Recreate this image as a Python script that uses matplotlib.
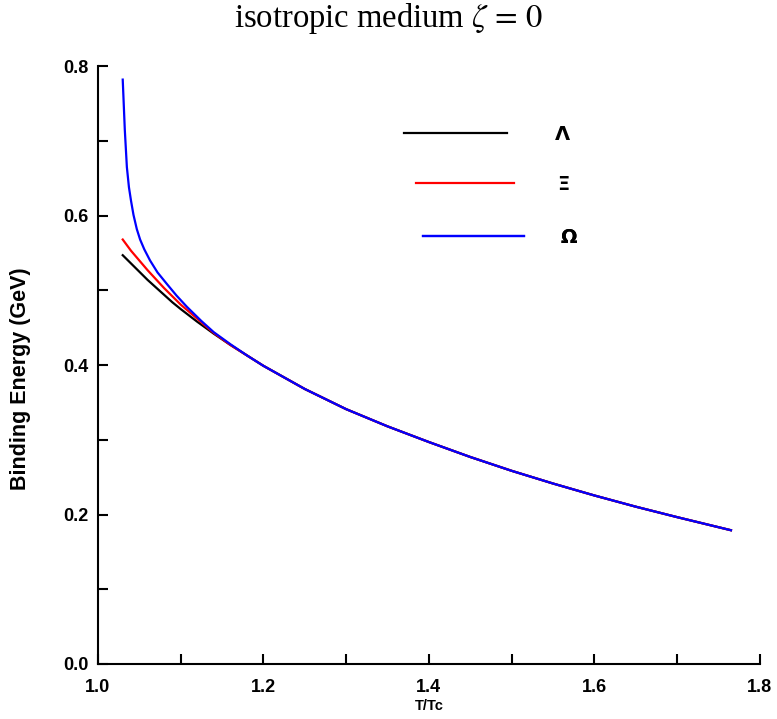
import matplotlib
matplotlib.use("Agg")
import matplotlib.pyplot as plt
from matplotlib.ticker import MultipleLocator, FormatStrFormatter

plt.rcParams['mathtext.fontset'] = 'stix'

# Omega curve (T/Tc, GeV)
x_omega = [1.030, 1.0325, 1.035, 1.0375, 1.040, 1.043, 1.047, 1.051, 1.056, 1.063,
           1.072, 1.083, 1.095, 1.1075, 1.125, 1.140, 1.160, 1.180, 1.200, 1.250,
           1.300, 1.350, 1.400, 1.450, 1.500, 1.550, 1.600, 1.650, 1.700, 1.765]
omega = [0.782, 0.715, 0.665, 0.638, 0.620, 0.601, 0.582, 0.568, 0.555, 0.540,
         0.524, 0.509, 0.493, 0.478, 0.459, 0.444, 0.428, 0.413, 0.399, 0.368,
         0.341, 0.318, 0.297, 0.277, 0.2585, 0.2415, 0.2255, 0.2105, 0.1965, 0.179]

# Xi and Lambda curves
x_xl = [1.030, 1.040, 1.050, 1.060, 1.070, 1.080, 1.090, 1.100, 1.120, 1.140,
        1.160, 1.180, 1.200, 1.250, 1.300, 1.350, 1.400, 1.450, 1.500, 1.550,
        1.600, 1.650, 1.700, 1.765]
xi = [0.568, 0.553, 0.540, 0.527, 0.515, 0.503, 0.492, 0.481, 0.462, 0.443,
      0.427, 0.413, 0.399, 0.368, 0.341, 0.318, 0.297, 0.277, 0.2585, 0.2415,
      0.2255, 0.2105, 0.1965, 0.179]
lam = [0.547, 0.536, 0.525, 0.514, 0.504, 0.494, 0.484, 0.475, 0.458, 0.442,
       0.427, 0.413, 0.399, 0.368, 0.341, 0.318, 0.297, 0.277, 0.2585, 0.2415,
       0.2255, 0.2105, 0.1965, 0.179]

labels = ['Λ', 'Ξ', 'Ω']
colors = ['black', 'red', 'blue']

fig = plt.figure(figsize=(7.77, 7.19), dpi=100)
ax = fig.add_axes([0.126, 0.0765, 0.852, 0.8315])

l1, = ax.plot(x_xl, lam, color=colors[0], lw=1.6)
l2, = ax.plot(x_xl, xi, color=colors[1], lw=1.6)
l3, = ax.plot(x_omega, omega, color=colors[2], lw=1.6)

ax.set_xlim(1.0, 1.8)
ax.set_ylim(0.0, 0.8)
for s in ['top', 'right']:
    ax.spines[s].set_visible(False)
for s in ['left', 'bottom']:
    ax.spines[s].set_linewidth(1.5)

ax.xaxis.set_major_locator(MultipleLocator(0.2))
ax.xaxis.set_minor_locator(MultipleLocator(0.1))
ax.yaxis.set_major_locator(MultipleLocator(0.2))
ax.yaxis.set_minor_locator(MultipleLocator(0.1))
ax.xaxis.set_major_formatter(FormatStrFormatter('%.1f'))
ax.yaxis.set_major_formatter(FormatStrFormatter('%.1f'))
ax.tick_params(which='both', direction='in', length=7, width=1.5,
               top=False, right=False)
ax.tick_params(axis='x', which='major', pad=11)
ax.tick_params(axis='y', which='major', pad=7)
for lab in ax.get_xticklabels() + ax.get_yticklabels():
    lab.set_fontfamily('Liberation Sans')
    lab.set_fontweight('bold')
    lab.set_fontsize(13)

ax.set_xlabel('T/Tc', fontfamily='Liberation Sans', fontweight='bold',
              fontsize=10.5, labelpad=2)
ax.set_ylabel('Binding Energy (GeV)', fontfamily='Liberation Sans',
              fontweight='bold', fontsize=15.5)
ax.yaxis.set_label_coords(-0.101, 0.477)

fig.text(0.5, 1 - 18 / 719, r'isotropic medium $\zeta\,=\,0$',
         fontfamily='Liberation Serif', fontsize=23.5, ha='center', va='center')

# legends (three separate entries, staggered)
leg_pos = [(0.462, 0.886), (0.480, 0.802), (0.491, 0.713)]
leg_len = [5.3, 5.05, 5.2]
leg_pad = [2.45, 2.25, 1.85]
handles = [l1, l2, l3]
for h, lab, pos, hl, tp in zip(handles, labels, leg_pos, leg_len, leg_pad):
    leg = ax.legend([h], [lab], loc='center left', bbox_to_anchor=pos,
                    frameon=False, borderpad=0, borderaxespad=0,
                    handlelength=hl, handletextpad=tp,
                    prop={'family': 'DejaVu Sans', 'weight': 'bold', 'size': 14})
    ax.add_artist(leg)

fig.savefig('out.png', dpi=100)
